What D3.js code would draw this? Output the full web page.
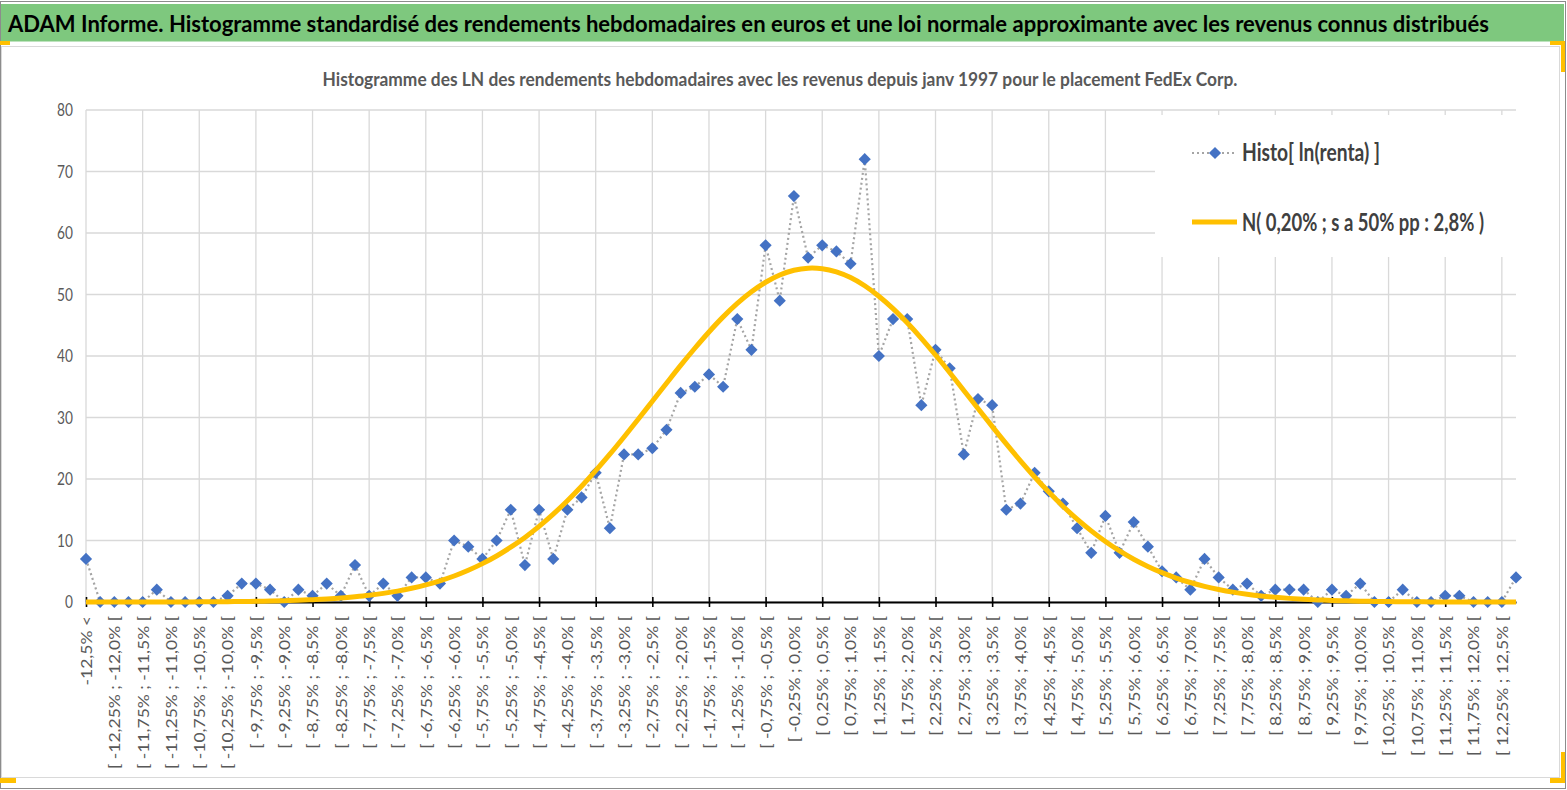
<!DOCTYPE html>
<html>
<head>
<meta charset="utf-8">
<script src="https://cdn.jsdelivr.net/npm/d3@7"></script>
<style>
  body { margin: 0; background: #fff; }
  svg { display: block; font-family: Lato, 'Open Sans', sans-serif; }
</style>
</head>
<body>
<div id="chart-container"></div>
<script>
// categories (bins of 0,25%)
const categories = [
  "-12,5% <",
  "[ -12,5% ; -12,25% [", "[ -12,25% ; -12,0% [", "[ -12,0% ; -11,75% [", "[ -11,75% ; -11,5% [",
  "[ -11,5% ; -11,25% [", "[ -11,25% ; -11,0% [", "[ -11,0% ; -10,75% [", "[ -10,75% ; -10,5% [",
  "[ -10,5% ; -10,25% [", "[ -10,25% ; -10,0% [", "[ -10,0% ; -9,75% [", "[ -9,75% ; -9,5% [",
  "[ -9,5% ; -9,25% [", "[ -9,25% ; -9,0% [", "[ -9,0% ; -8,75% [", "[ -8,75% ; -8,5% [",
  "[ -8,5% ; -8,25% [", "[ -8,25% ; -8,0% [", "[ -8,0% ; -7,75% [", "[ -7,75% ; -7,5% [",
  "[ -7,5% ; -7,25% [", "[ -7,25% ; -7,0% [", "[ -7,0% ; -6,75% [", "[ -6,75% ; -6,5% [",
  "[ -6,5% ; -6,25% [", "[ -6,25% ; -6,0% [", "[ -6,0% ; -5,75% [", "[ -5,75% ; -5,5% [",
  "[ -5,5% ; -5,25% [", "[ -5,25% ; -5,0% [", "[ -5,0% ; -4,75% [", "[ -4,75% ; -4,5% [",
  "[ -4,5% ; -4,25% [", "[ -4,25% ; -4,0% [", "[ -4,0% ; -3,75% [", "[ -3,75% ; -3,5% [",
  "[ -3,5% ; -3,25% [", "[ -3,25% ; -3,0% [", "[ -3,0% ; -2,75% [", "[ -2,75% ; -2,5% [",
  "[ -2,5% ; -2,25% [", "[ -2,25% ; -2,0% [", "[ -2,0% ; -1,75% [", "[ -1,75% ; -1,5% [",
  "[ -1,5% ; -1,25% [", "[ -1,25% ; -1,0% [", "[ -1,0% ; -0,75% [", "[ -0,75% ; -0,5% [",
  "[ -0,5% ; -0,25% [", "[ -0,25% ; 0,0% [", "[ 0,0% ; 0,25% [", "[ 0,25% ; 0,5% [",
  "[ 0,5% ; 0,75% [", "[ 0,75% ; 1,0% [", "[ 1,0% ; 1,25% [", "[ 1,25% ; 1,5% [",
  "[ 1,5% ; 1,75% [", "[ 1,75% ; 2,0% [", "[ 2,0% ; 2,25% [", "[ 2,25% ; 2,5% [",
  "[ 2,5% ; 2,75% [", "[ 2,75% ; 3,0% [", "[ 3,0% ; 3,25% [", "[ 3,25% ; 3,5% [",
  "[ 3,5% ; 3,75% [", "[ 3,75% ; 4,0% [", "[ 4,0% ; 4,25% [", "[ 4,25% ; 4,5% [",
  "[ 4,5% ; 4,75% [", "[ 4,75% ; 5,0% [", "[ 5,0% ; 5,25% [", "[ 5,25% ; 5,5% [",
  "[ 5,5% ; 5,75% [", "[ 5,75% ; 6,0% [", "[ 6,0% ; 6,25% [", "[ 6,25% ; 6,5% [",
  "[ 6,5% ; 6,75% [", "[ 6,75% ; 7,0% [", "[ 7,0% ; 7,25% [", "[ 7,25% ; 7,5% [",
  "[ 7,5% ; 7,75% [", "[ 7,75% ; 8,0% [", "[ 8,0% ; 8,25% [", "[ 8,25% ; 8,5% [",
  "[ 8,5% ; 8,75% [", "[ 8,75% ; 9,0% [", "[ 9,0% ; 9,25% [", "[ 9,25% ; 9,5% [",
  "[ 9,5% ; 9,75% [", "[ 9,75% ; 10,0% [", "[ 10,0% ; 10,25% [", "[ 10,25% ; 10,5% [",
  "[ 10,5% ; 10,75% [", "[ 10,75% ; 11,0% [", "[ 11,0% ; 11,25% [", "[ 11,25% ; 11,5% [",
  "[ 11,5% ; 11,75% [", "[ 11,75% ; 12,0% [", "[ 12,0% ; 12,25% [", "[ 12,25% ; 12,5% [",
  "12,5% >"
];

// Histo[ ln(renta) ] : weekly counts per bin
const histo = [
  7, 0, 0, 0, 0, 2, 0, 0, 0, 0,
  1, 3, 3, 2, 0, 2, 1, 3, 1, 6,
  1, 3, 1, 4, 4, 3, 10, 9, 7, 10,
  15, 6, 15, 7, 15, 17, 21, 12, 24, 24,
  25, 28, 34, 35, 37, 35, 46, 41, 58, 49,
  66, 56, 58, 57, 55, 72, 40, 46, 46, 32,
  41, 38, 24, 33, 32, 15, 16, 21, 18, 16,
  12, 8, 14, 8, 13, 9, 5, 4, 2, 7,
  4, 2, 3, 1, 2, 2, 2, 0, 2, 1,
  3, 0, 0, 2, 0, 0, 1, 1, 0, 0,
  0, 4
];

// N( 0,20% ; 2,8% )
const normal = [
  0.00, 0.00, 0.00, 0.00, 0.00, 0.00, 0.01, 0.01, 0.03, 0.04,
  0.06, 0.08, 0.12, 0.16, 0.21, 0.28, 0.38, 0.50, 0.65, 0.85,
  1.09, 1.40, 1.77, 2.23, 2.78, 3.45, 4.23, 5.16, 6.24, 7.48,
  8.91, 10.50, 12.30, 14.29, 16.47, 18.83, 21.36, 24.03, 26.83, 29.71,
  32.64, 35.57, 38.47, 41.26, 43.91, 46.36, 48.55, 50.44, 51.99, 53.17,
  53.94, 54.28, 54.19, 53.68, 52.75, 51.42, 49.72, 47.70, 45.40, 42.88,
  40.16, 37.32, 34.40, 31.47, 28.55, 25.70, 22.95, 20.33, 17.87, 15.57,
  13.47, 11.56, 9.84, 8.31, 6.96, 5.79, 4.77, 3.90, 3.17, 2.55,
  2.04, 1.61, 1.27, 0.99, 0.77, 0.59, 0.45, 0.34, 0.25, 0.19,
  0.14, 0.10, 0.07, 0.05, 0.03, 0.02, 0.02, 0.01, 0.01, 0.00,
  0.00, 0.00
];

const yTicks = [0, 10, 20, 30, 40, 50, 60, 70, 80];

const seriesNames = ["Histo[ ln(renta) ]", "N( 0,20% ; s a 50% pp : 2,8% )"];
const mainTitle = "ADAM Informe. Histogramme standardisé des rendements hebdomadaires en euros et une loi normale approximante avec les revenus connus distribués";
const chartTitle = "Histogramme des LN des rendements hebdomadaires avec les revenus depuis janv 1997 pour le placement FedEx Corp.";

// set up svg
const svgWidth = 1567, svgHeight = 790;
const plot = { left: 86, right: 1516, top: 110, bottom: 602 };

const svg = d3.select('#chart-container')
  .append('svg')
  .attr('width', svgWidth)
  .attr('height', svgHeight);

// squeeze text to the width it has in the picture
function fit(sel, w) {
  sel.attr('textLength', w).attr('lengthAdjust', 'spacingAndGlyphs');
}

// frame, green banner and the chart area
svg.append('rect')
  .attr('x', 0.5).attr('y', 1.5).attr('width', 1565).attr('height', 787)
  .attr('fill', '#fff').attr('stroke', '#8c8c8c');

svg.append('rect')
  .attr('x', 1).attr('y', 4).attr('width', 1563).attr('height', 37.5)
  .attr('fill', '#7ec87e');

svg.append('text')
  .attr('x', 8).attr('y', 31.5)
  .style('font-size', '23px').style('font-weight', 700)
  .attr('fill', '#000')
  .text(mainTitle)
  .call(fit, 1481);

svg.append('rect')
  .attr('x', 1.5).attr('y', 46.5).attr('width', 1558).attr('height', 731)
  .attr('fill', '#fff').attr('stroke', '#d9d9d9');

// little yellow handles on the corners
const handles = [
  [0, 41, 10, 4], [1550, 41, 15, 4], [1561, 41, 4, 31],
  [0, 778, 16, 5], [1550, 778, 15, 5], [1561, 752, 4, 31]
];
svg.selectAll('.handle')
  .data(handles)
  .enter()
  .append('rect')
  .attr('class', 'handle')
  .attr('x', d => d[0]).attr('y', d => d[1])
  .attr('width', d => d[2]).attr('height', d => d[3])
  .attr('fill', '#ffc000');

svg.append('text')
  .attr('x', 780).attr('y', 86)
  .attr('text-anchor', 'middle')
  .style('font-size', '18px').style('font-weight', 700)
  .attr('fill', '#595959')
  .text(chartTitle)
  .call(fit, 915);

// scales
const xScale = d3.scalePoint()
  .domain(categories)
  .range([plot.left, plot.right]);

const yScale = d3.scaleLinear()
  .domain([0, 80])
  .range([plot.bottom, plot.top]);

// gridlines
svg.append('g')
  .selectAll('line')
  .data(yTicks)
  .enter()
  .append('line')
  .attr('x1', plot.left).attr('x2', plot.right)
  .attr('y1', d => yScale(d)).attr('y2', d => yScale(d))
  .attr('stroke', '#d9d9d9').attr('stroke-width', 1.3);

const gridCats = categories.filter((d, i) => i % 4 === 0);
svg.append('g')
  .selectAll('line')
  .data(gridCats)
  .enter()
  .append('line')
  .attr('x1', d => xScale(d)).attr('x2', d => xScale(d))
  .attr('y1', plot.top).attr('y2', plot.bottom)
  .attr('stroke', '#d9d9d9').attr('stroke-width', 1.3);

// legend box sits over the gridlines
svg.append('rect')
  .attr('x', 1155).attr('y', 115).attr('width', 390).attr('height', 142)
  .attr('fill', '#fff');

// y axis labels
const yAxisG = svg.append('g')
  .attr('transform', `translate(${plot.left},0)`)
  .call(d3.axisLeft(yScale).tickValues(yTicks).tickSize(0).tickPadding(13));
yAxisG.select('.domain').remove();
yAxisG.selectAll('text')
  .style('font-family', "Lato, 'Open Sans', sans-serif")
  .style('font-size', '18px')
  .attr('fill', '#595959')
  .each(function () {
    const L = this.getComputedTextLength();
    d3.select(this).call(fit, L * 0.76);
  });

// x axis line and tick marks every 4 bins
const xAxisG = svg.append('g')
  .attr('transform', `translate(0,${plot.bottom})`)
  .call(d3.axisBottom(xScale).tickValues(gridCats).tickSize(5).tickSizeOuter(0).tickFormat(''));
xAxisG.select('.domain').attr('stroke', '#000').attr('stroke-width', 2.2);
xAxisG.selectAll('.tick line')
  .attr('y1', -5).attr('y2', 5)
  .attr('stroke', '#000').attr('stroke-width', 1.6);

// x labels every 2 bins, rotated
const labCats = categories.filter((d, i) => i % 2 === 0);
const xLabG = svg.append('g')
  .attr('transform', `translate(0,${plot.bottom})`)
  .call(d3.axisBottom(xScale).tickValues(labCats).tickSize(0).tickPadding(0));
xLabG.select('.domain').remove();
const xLabels = xLabG.selectAll('text')
  .style('font-family', "Lato, 'Open Sans', sans-serif")
  .style('font-size', '15px')
  .attr('fill', '#595959')
  .attr('text-anchor', 'end')
  .attr('transform', 'rotate(-90)')
  .attr('x', -14)
  .attr('y', 0)
  .attr('dy', '0.36em');
const refLen = xLabels.filter(d => d === categories[2]).node().getComputedTextLength();
const kx = 153 / refLen;
xLabels.each(function () {
  const L = this.getComputedTextLength();
  d3.select(this).call(fit, L * kx);
});

// Histo series: dotted grey line + blue diamonds
const histoLine = d3.line()
  .x((d, i) => xScale(categories[i]))
  .y(d => yScale(d));

svg.append('path')
  .datum(histo)
  .attr('fill', 'none')
  .attr('stroke', '#a5a5a5')
  .attr('stroke-width', 2.2)
  .attr('stroke-dasharray', '2,3')
  .attr('d', histoLine);

const diamond = d3.symbol().type(d3.symbolSquare).size(74);
svg.append('g')
  .selectAll('path')
  .data(histo)
  .enter()
  .append('path')
  .attr('d', diamond)
  .attr('transform', (d, i) => `translate(${xScale(categories[i])},${yScale(d)}) rotate(45)`)
  .attr('fill', '#4472c4');

// normal curve, smoothed
const normalLine = d3.line()
  .x((d, i) => xScale(categories[i]))
  .y(d => yScale(d))
  .curve(d3.curveCatmullRom);

svg.append('path')
  .datum(normal)
  .attr('fill', 'none')
  .attr('stroke', '#ffc000')
  .attr('stroke-width', 5)
  .attr('stroke-linejoin', 'round')
  .attr('d', normalLine);

// legend
const legend = svg.append('g');
legend.append('line')
  .attr('x1', 1192).attr('x2', 1236).attr('y1', 153).attr('y2', 153)
  .attr('stroke', '#a5a5a5').attr('stroke-width', 2.2).attr('stroke-dasharray', '2,3');
legend.append('path')
  .attr('d', diamond)
  .attr('transform', 'translate(1215,153) rotate(45)')
  .attr('fill', '#4472c4');
legend.append('text')
  .attr('x', 1242).attr('y', 161)
  .style('font-size', '24px').style('font-weight', 700)
  .attr('fill', '#404040')
  .text(seriesNames[0])
  .call(fit, 138);

legend.append('line')
  .attr('x1', 1192).attr('x2', 1237).attr('y1', 222).attr('y2', 222)
  .attr('stroke', '#ffc000').attr('stroke-width', 5);
legend.append('text')
  .attr('x', 1242).attr('y', 231)
  .style('font-size', '24px').style('font-weight', 700)
  .attr('fill', '#404040')
  .text(seriesNames[1])
  .call(fit, 242);
</script>
</body>
</html>
